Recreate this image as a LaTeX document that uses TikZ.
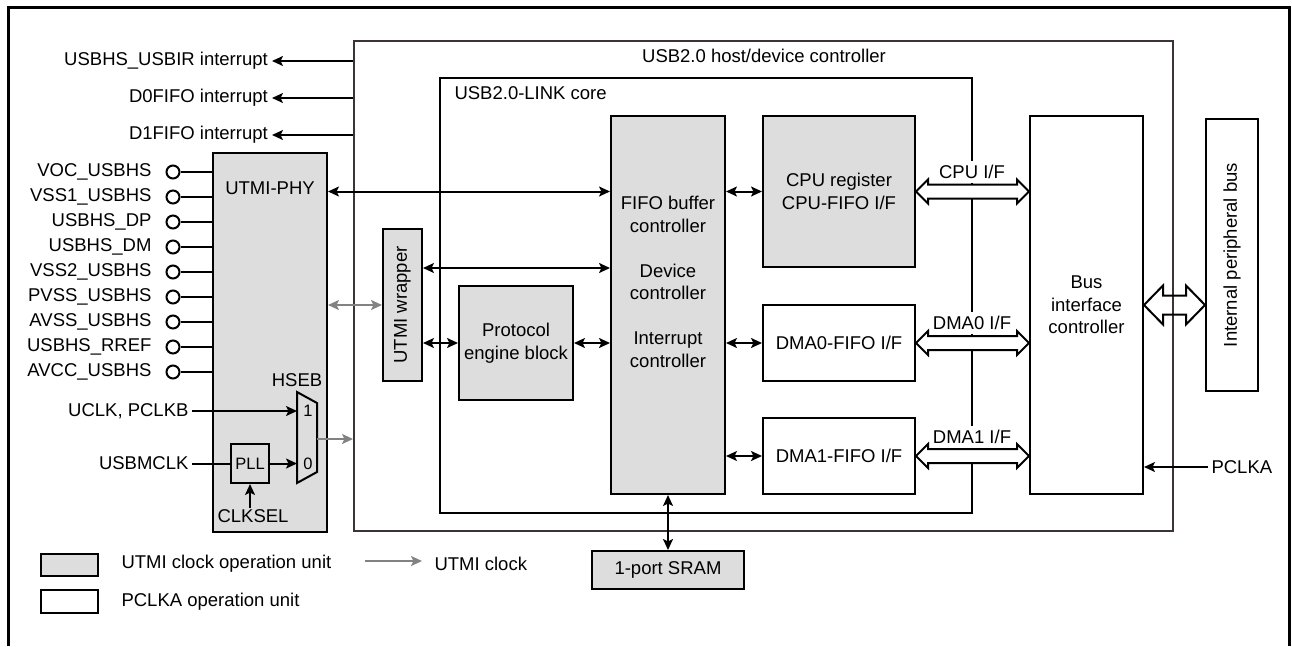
\documentclass[tikz,border=0pt]{standalone}
\usepackage{fontspec}
\setmainfont{Liberation Sans}
\usetikzlibrary{arrows.meta,positioning,calc}

\definecolor{unitgray}{RGB}{221,221,221}
\definecolor{clkgray}{RGB}{130,130,130}
\definecolor{framegray}{RGB}{60,52,52}

% hollow bus arrow: [style]{from}{to}{head length}{head half width}{shaft half width}
\newcommand\busarrow[6][fill=white]{%
  \draw[line width=2pt, #1] let \p1=(#2), \p2=(#3) in
    (\x1,\y1) -- (\x1+#4pt,\y1+#5pt) -- (\x1+#4pt,\y1+#6pt) -- (\x2-#4pt,\y1+#6pt)
    -- (\x2-#4pt,\y1+#5pt) -- (\x2,\y1) -- (\x2-#4pt,\y1-#5pt) -- (\x2-#4pt,\y1-#6pt)
    -- (\x1+#4pt,\y1-#6pt) -- (\x1+#4pt,\y1-#5pt) -- cycle;}

\begin{document}
\begin{tikzpicture}[
    x=1pt, y=-1pt,
    >={Stealth[length=11pt,width=10pt,inset=2.5pt]},
    every node/.style={font=\fontsize{18.5}{22.5}\selectfont},
    utmibox/.style={draw=black, rectangle, fill=unitgray, line width=2pt, inner sep=0pt, align=center},
    pclkbox/.style={draw=black, rectangle, fill=white, line width=2pt, inner sep=0pt, align=center},
    pin/.style={draw=black, circle, fill=white, line width=2pt, minimum size=13pt, inner sep=0pt},
    wire/.style={line width=2pt},
    utmiclk/.style={line width=2pt, draw=clkgray},
    iflabel/.style={fill=white, inner xsep=2pt, inner ysep=4pt},
    small/.style={font=\fontsize{16.5}{19}\selectfont, inner sep=1pt}
]
    \useasboundingbox (0,0) rectangle (1292,646);

    % Outer frame (open at the bottom)
    \draw[line width=3pt] (8,646) -- (8,7) -- (1289,7) -- (1289,646);

    % Host/device controller and LINK core
    \node[pclkbox, draw=framegray, minimum width=819pt, minimum height=490pt] (host) at (763.5,286) {};
    \node (hosttitle) at (764,56) {USB2.0 host/device controller};
    \node[pclkbox, minimum width=532pt, minimum height=435pt] (link) at (706,295.5) {};
    \node[anchor=west] (linktitle) at (451,93) {USB2.0-LINK core};

    % Blocks inside the core
    \node[utmibox, minimum width=114pt, minimum height=378pt] (fifo) at (668,305) {};
    \node[align=center] (fifotext) at (668,282) {FIFO buffer\\controller\\[22.5pt]Device\\controller\\[22.5pt]Interrupt\\controller};
    \node[utmibox, minimum width=152pt, minimum height=151pt] (cpu) at (839,191.5) {CPU register\\CPU-FIFO I/F};
    \node[pclkbox, minimum width=152pt, minimum height=76pt] (dma0) at (839,343) {DMA0-FIFO I/F};
    \node[pclkbox, minimum width=152pt, minimum height=76pt] (dma1) at (839,456) {DMA1-FIFO I/F};
    \node[utmibox, minimum width=114pt, minimum height=114pt] (pe) at (516,343) {Protocol\\engine block};
    \node[utmibox, minimum width=39pt, minimum height=152pt] (wrap) at (402.5,305) {};
    \node[rotate=90] (wraptext) at (wrap.center) {UTMI wrapper};

    % Bus side
    \node[pclkbox, minimum width=113pt, minimum height=378pt] (bic) at (1086.5,305) {Bus\\interface\\controller};
    \node[pclkbox, minimum width=52pt, minimum height=272pt] (ipb) at (1232,255) {};
    \node[rotate=90] (ipbtext) at (ipb.center) {Internal peripheral bus};
    \node[anchor=west] (pclka) at (1208,467) {PCLKA};

    % SRAM
    \node[utmibox, minimum width=152pt, minimum height=38pt] (sram) at (668,570) {1-port SRAM};

    % UTMI-PHY with clock selection
    \node[utmibox, minimum width=114pt, minimum height=379pt] (phy) at (270,342.5) {};
    \node (phytitle) at (270,188) {UTMI-PHY};
    \node[utmibox, minimum width=38pt, minimum height=39pt, font=\fontsize{16.5}{19}\selectfont] (pll) at (250,463.5) {PLL};
    \draw[line width=2pt] (297,392) -- (317,403) -- (317,472) -- (297,483) -- cycle;
    \coordinate (mux1) at (297,411);
    \coordinate (mux0) at (297,463.5);
    \coordinate (muxout) at (317,439);
    \node[small] (sel1) at (308,411) {1};
    \node[small] (sel0) at (308,463.5) {0};
    \node (hseb) at (297,380) {HSEB};
    \node[anchor=east] (uclk) at (192,411) {UCLK, PCLKB};
    \node[anchor=east] (usbmclk) at (192,463.5) {USBMCLK};
    \node[inner sep=1pt] (clksel) at (253,516) {CLKSEL};

    % Pins
    \foreach \pname [count=\i] in {VOC\_USBHS, VSS1\_USBHS, USBHS\_DP, USBHS\_DM, VSS2\_USBHS, PVSS\_USBHS, AVSS\_USBHS, USBHS\_RREF, AVCC\_USBHS} {
        \node[pin] (pin\i) at (173,147+25*\i) {};
        \node[anchor=east] (pinlabel\i) at (155,147+25*\i) {\pname};
        \draw[wire] (pin\i.east) -- (phy.west |- pin\i);
    }

    % Interrupt outputs
    \foreach \txt/\yy/\nm in {USBHS\_USBIR interrupt/61/irq1, D0FIFO interrupt/98/irq2, D1FIFO interrupt/135/irq3} {
        \node[anchor=east, inner sep=4pt] (\nm) at (272,\yy) {\txt};
        \draw[wire,->] (host.west |- \nm) -- (\nm.east);
    }

    % Connectors
    \draw[wire,<->] (phy.east |- cpu) -- (fifo.west |- cpu);
    \draw[wire,<->] (wrap.east |- cpu.south) -- (fifo.west |- cpu.south);
    \draw[utmiclk,<->] (phy.east |- wrap) -- (wrap.west);
    \draw[wire,<->] (wrap.east |- pe) -- (pe.west);
    \draw[wire,<->] (pe.east) -- (fifo.west |- pe);
    \draw[wire,<->] (fifo.east |- cpu) -- (cpu.west);
    \draw[wire,<->] (fifo.east |- dma0) -- (dma0.west);
    \draw[wire,<->] (fifo.east |- dma1) -- (dma1.west);
    \draw[wire,<->] (fifo.south) -- (sram.north);
    \draw[wire,->] (pclka.west) -- (bic.east |- pclka);

    \draw[wire,->] (uclk.east) -- (mux1);
    \draw[wire] (usbmclk.east) -- (pll.west);
    \draw[wire,->] (pll.east) -- (mux0);
    \draw[wire,->] (pll.south |- clksel.north) -- (pll.south);
    \draw[utmiclk,->] (muxout) -- (host.west |- muxout);

    % Bus interfaces
    \busarrow{cpu.east}{bic.west |- cpu}{12}{12}{7}
    \busarrow{dma0.east}{bic.west |- dma0}{12}{12}{7}
    \busarrow{dma1.east}{bic.west |- dma1}{12}{12}{7}
    \busarrow[fill=none]{bic.east}{ipb.west |- bic}{19}{19.5}{9.5}
    \node[iflabel] (cpuif) at (972,172) {CPU I/F};
    \node[iflabel] (dma0if) at (972,323) {DMA0 I/F};
    \node[iflabel] (dma1if) at (972,437) {DMA1 I/F};

    % Legend
    \node[utmibox, minimum width=57pt, minimum height=22pt] (legu) at (69.5,564.5) {};
    \node[anchor=west] (legutext) at (118,564) {UTMI clock operation unit};
    \node[pclkbox, minimum width=57pt, minimum height=23pt] (legp) at (69.5,601.5) {};
    \node[anchor=west] (legptext) at (118,602) {PCLKA operation unit};
    \coordinate (legA) at (365,561);
    \coordinate (legB) at (422,561);
    \draw[utmiclk,->] (legA) -- (legB);
    \node[anchor=west] (legclk) at (431,564) {UTMI clock};

\end{tikzpicture}
\end{document}
